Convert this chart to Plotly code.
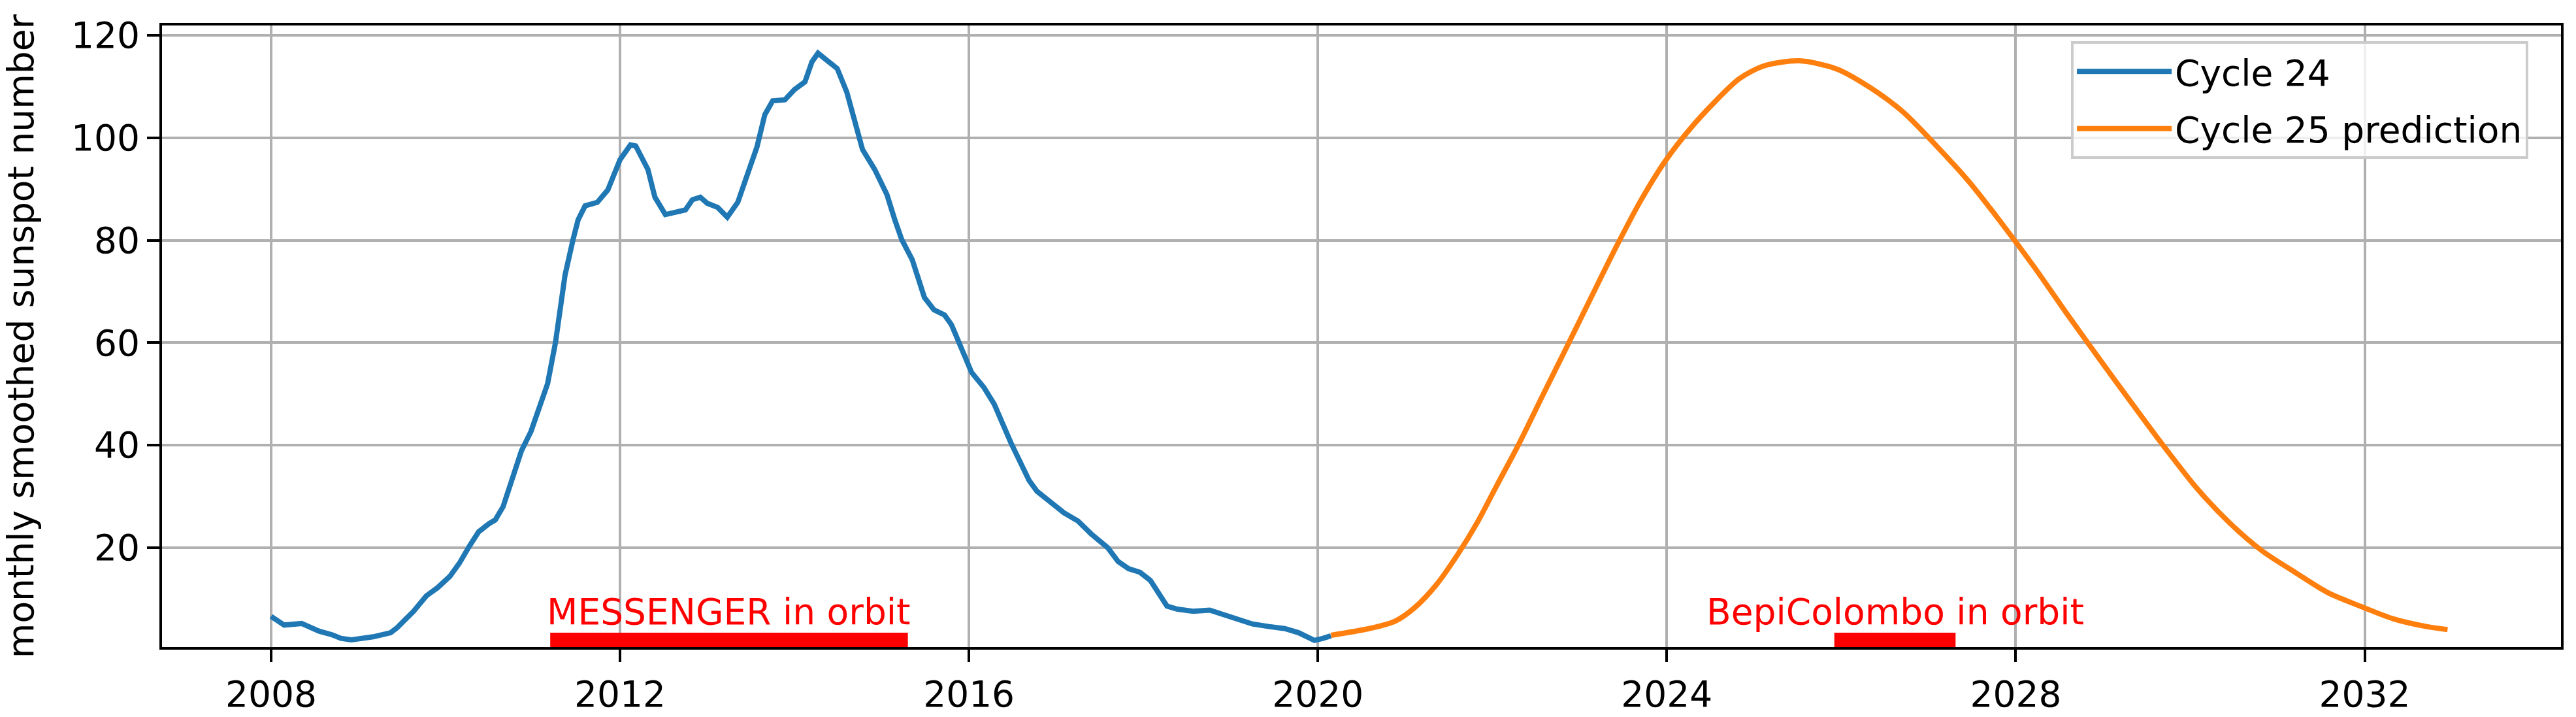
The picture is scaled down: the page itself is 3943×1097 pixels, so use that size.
import plotly.graph_objects as go

# ---- data ----
c24_year = [2008.00, 2008.15, 2008.35, 2008.55, 2008.70, 2008.80, 2008.92, 2009.17, 2009.37, 2009.44,
            2009.54, 2009.63, 2009.78, 2009.91, 2010.05, 2010.16, 2010.27, 2010.38, 2010.50, 2010.57,
            2010.66, 2010.76, 2010.87, 2010.98, 2011.10, 2011.17, 2011.26, 2011.37, 2011.46, 2011.52,
            2011.60, 2011.74, 2011.86, 2012.00, 2012.12, 2012.18, 2012.32, 2012.40, 2012.52, 2012.63,
            2012.75, 2012.83, 2012.92, 2013.00, 2013.12, 2013.23, 2013.35, 2013.46, 2013.57, 2013.66,
            2013.75, 2013.89, 2014.00, 2014.12, 2014.20, 2014.27, 2014.37, 2014.49, 2014.60, 2014.69,
            2014.78, 2014.92, 2015.06, 2015.15, 2015.23, 2015.35, 2015.49, 2015.60, 2015.72, 2015.80,
            2015.92, 2016.03, 2016.17, 2016.29, 2016.48, 2016.57, 2016.69, 2016.78, 2016.94, 2017.09,
            2017.25, 2017.40, 2017.59, 2017.71, 2017.83, 2017.96, 2018.08, 2018.17, 2018.27, 2018.39,
            2018.57, 2018.76, 2018.88, 2019.07, 2019.25, 2019.44, 2019.62, 2019.78, 2019.90, 2019.96,
            2020.06, 2020.15]
c24_ssn = [6.6, 4.9, 5.2, 3.7, 3.0, 2.3, 2.0, 2.6, 3.4, 4.3,
           6.0, 7.5, 10.6, 12.2, 14.4, 17.0, 20.2, 23.1, 24.7, 25.4,
           28.0, 33.1, 38.9, 42.7, 48.5, 52.0, 60.0, 73.2, 80.0, 84.0,
           86.7, 87.4, 89.8, 95.7, 98.6, 98.4, 93.8, 88.4, 85.0, 85.4,
           85.9, 87.9, 88.4, 87.2, 86.4, 84.5, 87.4, 92.8, 98.2, 104.5,
           107.2, 107.4, 109.4, 110.9, 114.8, 116.5, 115.0, 113.5, 108.9, 103.5,
           97.7, 93.8, 88.9, 84.0, 80.1, 76.2, 68.8, 66.4, 65.4, 63.5,
           58.6, 54.2, 51.3, 48.0, 40.5, 37.2, 33.1, 31.0, 28.7, 26.8,
           25.2, 22.7, 20.0, 17.3, 15.9, 15.2, 13.6, 11.1, 8.6, 8.0,
           7.6, 7.8, 7.1, 5.9, 5.1, 4.6, 4.2, 3.4, 2.4, 1.9,
           2.3, 2.8]

c25_year = [2020.15, 2020.61, 2020.89, 2021.11, 2021.36, 2021.60, 2021.83, 2022.05, 2022.30, 2022.58,
            2022.86, 2023.14, 2023.42, 2023.70, 2023.98, 2024.27, 2024.55, 2024.83, 2025.11, 2025.52,
            2025.95, 2026.33, 2026.71, 2027.08, 2027.46, 2027.83, 2028.21, 2028.58, 2028.96, 2029.33,
            2029.71, 2030.08, 2030.46, 2030.83, 2031.21, 2031.58, 2031.96, 2032.33, 2032.71, 2032.95]
c25_ssn = [2.9, 4.3, 5.7, 8.3, 12.8, 18.6, 25.0, 32.1, 40.1, 49.8,
           59.4, 69.1, 78.7, 87.7, 95.4, 101.8, 107.0, 111.5, 114.0, 115.0,
           113.4, 109.8, 105.0, 98.6, 91.5, 83.5, 74.8, 65.8, 56.8, 48.2,
           39.5, 31.5, 24.7, 19.3, 15.1, 11.2, 8.5, 6.1, 4.6, 4.0]

missions = ["MESSENGER in orbit", "BepiColombo in orbit"]
mission_start = [2011.2, 2025.92]
mission_end = [2015.3, 2027.31]
mission_level = 2.0
label_level = 5.0

x_ticks = [2008, 2012, 2016, 2020, 2024, 2028, 2032]
y_ticks = [20, 40, 60, 80, 100, 120]

FONT = "DejaVu Sans"
FS = 55

fig = go.Figure()
fig.add_trace(go.Scatter(x=c24_year, y=c24_ssn, mode="lines", name="Cycle 24",
                         line=dict(color="#1f77b4", width=8), legendgroup="a"))
fig.add_trace(go.Scatter(x=c25_year, y=c25_ssn, mode="lines", name="Cycle 25 prediction",
                         line=dict(color="#ff7f0e", width=8, shape="spline", smoothing=0.8),
                         legendgroup="b"))

for name, s, e in zip(missions, mission_start, mission_end):
    fig.add_trace(go.Scatter(x=[s, e], y=[mission_level, mission_level], mode="lines",
                             line=dict(color="#ff0000", width=22), showlegend=False,
                             hoverinfo="skip"))
    fig.add_annotation(x=(s + e) / 2, y=label_level, text=name, showarrow=False,
                       xanchor="center", yanchor="bottom", yshift=-14,
                       font=dict(family=FONT, size=FS, color="#ff0000"))

axis_common = dict(showgrid=True, gridcolor="#b0b0b0", gridwidth=4, zeroline=False,
                   showline=True, linecolor="black", linewidth=4, mirror=True,
                   ticks="outside", ticklen=19, tickwidth=4, tickcolor="black",
                   automargin=False,
                   tickfont=dict(family=FONT, size=FS, color="black"))

fig.update_xaxes(range=[2006.75, 2034.25], tickvals=x_ticks,
                 ticktext=[str(t) for t in x_ticks], ticklabelstandoff=2, **axis_common)
fig.update_yaxes(range=[0.6, 121.9], tickvals=y_ticks,
                 ticktext=[str(t) for t in y_ticks], ticklabelstandoff=0,
                 title=dict(text="monthly smoothed sunspot number",
                            font=dict(family=FONT, size=FS, color="black"), standoff=44),
                 **axis_common)

fig.update_layout(
    width=3943, height=1097,
    margin=dict(l=248, r=23, t=39, b=107, pad=0),
    paper_bgcolor="white", plot_bgcolor="white",
    font=dict(family=FONT, size=FS, color="black"),
    legend=dict(x=0.9864, y=0.9748, xanchor="right", yanchor="top",
                bgcolor="rgba(255,255,255,0.8)", bordercolor="#cccccc", borderwidth=4,
                font=dict(family=FONT, size=FS, color="black"),
                traceorder="grouped", tracegroupgap=13, itemwidth=145),
)

fig.write_html("out.html", config={"displayModeBar": False},
               post_script="document.body.style.margin='0';document.body.style.overflow='hidden';")
